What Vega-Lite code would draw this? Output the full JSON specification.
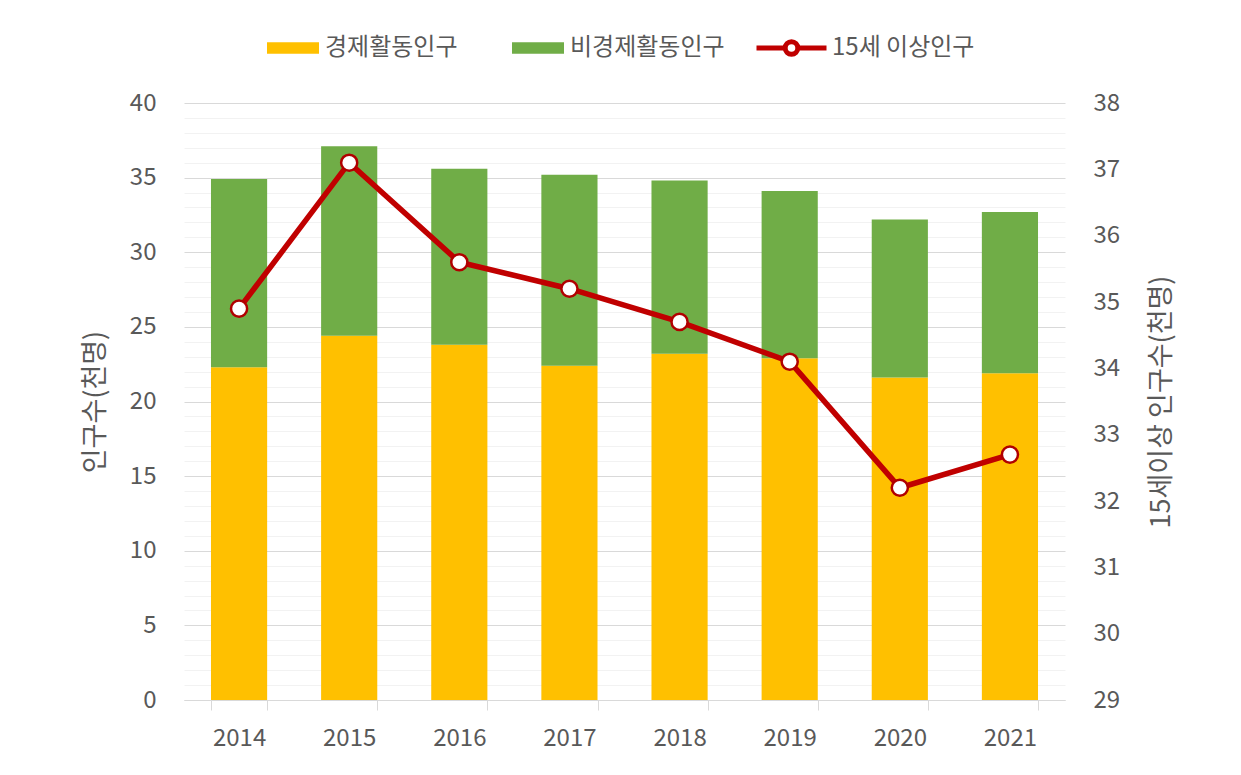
{
  "$schema": "https://vega.github.io/schema/vega-lite/v6.json",
  "width": 881,
  "height": 597,
  "autosize": {"type": "none"},
  "padding": {"left": 184, "top": 103, "right": 176, "bottom": 75},
  "background": "white",
  "config": {
    "view": {"stroke": null},
    "font": "Noto Sans CJK KR",
    "axis": {"labelFont": "Noto Sans CJK KR", "titleFont": "Noto Sans CJK KR", "labelColor": "#595959", "titleColor": "#595959", "titleFontWeight": "normal"},
    "legend": {"labelFont": "Noto Sans CJK KR", "labelColor": "#595959", "padding": 0}
  },
  "datasets": {
    "bars": [
      {"year": "2014", "type": "경제활동인구", "value": 22.3},
      {"year": "2014", "type": "비경제활동인구", "value": 12.6},
      {"year": "2015", "type": "경제활동인구", "value": 24.4},
      {"year": "2015", "type": "비경제활동인구", "value": 12.7},
      {"year": "2016", "type": "경제활동인구", "value": 23.8},
      {"year": "2016", "type": "비경제활동인구", "value": 11.8},
      {"year": "2017", "type": "경제활동인구", "value": 22.4},
      {"year": "2017", "type": "비경제활동인구", "value": 12.8},
      {"year": "2018", "type": "경제활동인구", "value": 23.2},
      {"year": "2018", "type": "비경제활동인구", "value": 11.6},
      {"year": "2019", "type": "경제활동인구", "value": 22.9},
      {"year": "2019", "type": "비경제활동인구", "value": 11.2},
      {"year": "2020", "type": "경제활동인구", "value": 21.6},
      {"year": "2020", "type": "비경제활동인구", "value": 10.6},
      {"year": "2021", "type": "경제활동인구", "value": 21.9},
      {"year": "2021", "type": "비경제활동인구", "value": 10.8}
    ],
    "line": [
      {"year": "2014", "total": 34.9},
      {"year": "2015", "total": 37.1},
      {"year": "2016", "total": 35.6},
      {"year": "2017", "total": 35.2},
      {"year": "2018", "total": 34.7},
      {"year": "2019", "total": 34.1},
      {"year": "2020", "total": 32.2},
      {"year": "2021", "total": 32.7}
    ]
  },
  "encoding": {
    "x": {
      "field": "year", "type": "nominal",
      "scale": {"paddingInner": 0.49, "paddingOuter": 0.245},
      "axis": {"title": null, "labelAngle": 0, "labelFontSize": 24, "labelPadding": 16, "tickSize": 10, "tickColor": "#d9d9d9", "domainColor": "#d9d9d9", "tickBand": "extent", "grid": false}
    }
  },
  "layer": [
    {
      "data": {"name": "bars"},
      "mark": {"type": "bar"},
      "encoding": {
        "y": {
          "field": "value", "type": "quantitative", "stack": "zero",
          "scale": {"domain": [0, 40], "nice": false},
          "axis": {
            "title": "인구수(천명)", "titleFontSize": 27, "titlePadding": 20,
            "values": [0,1,2,3,4,5,6,7,8,9,10,11,12,13,14,15,16,17,18,19,20,21,22,23,24,25,26,27,28,29,30,31,32,33,34,35,36,37,38,39,40],
            "labelExpr": "datum.value % 5 === 0 ? datum.label : ''",
            "labelOverlap": false,
            "labelFontSize": 24, "labelPadding": 28, "ticks": false, "domain": false,
            "grid": true,
            "gridColor": {"condition": {"test": "datum.value % 5 === 0", "value": "#d9d9d9"}, "value": "#f2f2f2"}
          }
        },
        "fill": {
          "field": "type", "type": "nominal",
          "scale": {"domain": ["경제활동인구", "비경제활동인구"], "range": ["#ffc000", "#70ad47"]},
          "legend": {
            "title": null, "orient": "none", "direction": "horizontal", "legendX": 77.5, "legendY": -67,
            "symbolType": "M-1,-0.9H7V0.9H-1Z", "symbolSize": 169, "symbolStrokeWidth": 0,
            "labelFontSize": 24, "labelOffset": 39.5, "columnPadding": 49
          }
        },
        "order": {"field": "type", "sort": "ascending"}
      }
    },
    {
      "data": {"name": "line"},
      "layer": [
        {
          "mark": {"type": "line", "strokeWidth": 5.5},
          "encoding": {
            "y": {
              "field": "total", "type": "quantitative",
              "scale": {"domain": [29, 38], "nice": false},
              "axis": {"orient": "right", "title": "15세이상 인구수(천명)", "titleAngle": 270, "titleFontSize": 27, "titlePadding": 56, "labelFontSize": 24, "labelPadding": 28, "labelOverlap": false, "format": "d", "ticks": false, "domain": false, "grid": false, "values": [29,30,31,32,33,34,35,36,37,38]}
            },
            "stroke": {
              "datum": "15세 이상인구",
              "scale": {"range": ["#c00000"]},
              "legend": {
                "title": null, "orient": "none", "legendX": 567.5, "legendY": -67,
                "symbolType": "M-1,0H3.1M4.9,0H9M4.9,0A0.9,0.9 0 1,0 3.1,0A0.9,0.9 0 1,0 4.9,0Z",
                "symbolSize": 196, "symbolStrokeWidth": 5, "symbolFillColor": "white",
                "labelFontSize": 24, "labelOffset": 56.5
              }
            }
          }
        },
        {
          "mark": {"type": "point", "shape": "circle", "filled": true, "fill": "white", "stroke": "#b00000", "strokeWidth": 2.5, "size": 260, "opacity": 1},
          "encoding": {
            "y": {"field": "total", "type": "quantitative"}
          }
        }
      ]
    }
  ],
  "resolve": {"scale": {"y": "independent"}}
}
